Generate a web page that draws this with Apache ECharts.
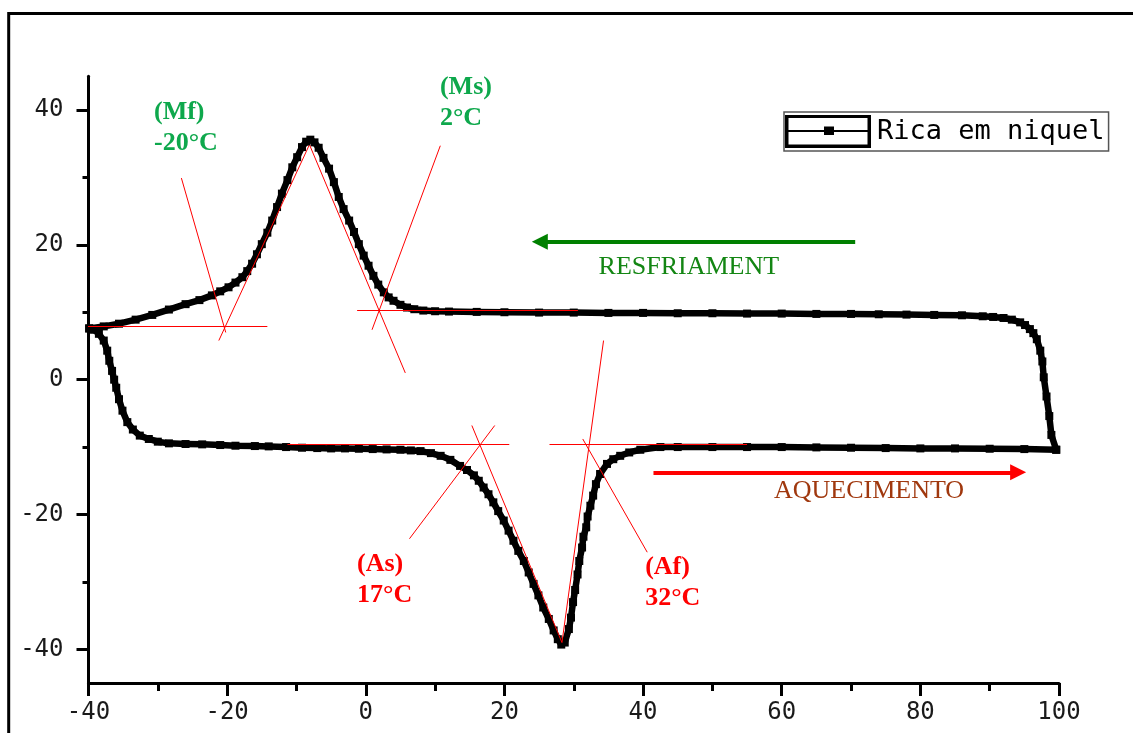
<!DOCTYPE html>
<html>
<head>
<meta charset="utf-8">
<script src="https://cdn.jsdelivr.net/npm/echarts@6/dist/echarts.min.js"></script>
<style>
html,body{margin:0;padding:0;background:#fff;}
#chart{width:1133px;height:733px;}
</style>
</head>
<body>
<div id="chart"></div>
<script>
// ---- data ----
const xMajorTicks = [-40, -20, 0, 20, 40, 60, 80, 100];
const xMinorTicks = [-30, -10, 10, 30, 50, 70, 90];
const yMajorTicks = [-40, -20, 0, 20, 40];
const yMinorTicks = [-30, -10, 10, 30];

const seriesName = 'Rica em niquel';

// heating run (temperature °C, heat flow)
const heatingCurve = [
  [-39.9, 7.6], [-39.2, 7.4], [-38.5, 6.8], [-37.8, 5.8], [-37.3, 4.3], [-37.0, 2.8],
  [-36.6, 1.3], [-36.3, 0.0], [-36.0, -1.2], [-35.6, -2.9], [-35.1, -4.6], [-34.4, -6.3],
  [-33.6, -7.4], [-32.6, -8.3], [-31.3, -8.8], [-30.0, -9.2], [-28.4, -9.45], [-26.0, -9.55],
  [-23.6, -9.6], [-21.0, -9.7], [-18.8, -9.8], [-16.0, -9.85], [-14.0, -9.9], [-11.5, -10.0],
  [-9.2, -10.1], [-7.0, -10.15], [-5.0, -10.2], [-3.0, -10.2], [-1.0, -10.25], [1.0, -10.3],
  [3.0, -10.35], [5.0, -10.4], [6.5, -10.5], [7.9, -10.6], [9.4, -10.9], [10.8, -11.3],
  [12.2, -11.9], [13.6, -12.8], [14.6, -13.4], [15.6, -14.2], [16.3, -15.0], [17.0, -16.0],
  [17.7, -17.0], [18.4, -18.2], [19.1, -19.5], [19.9, -20.9], [20.6, -22.4], [21.3, -23.9],
  [22.0, -25.4], [22.8, -26.9], [23.5, -28.6], [24.2, -30.3], [24.9, -32.0], [25.6, -33.8],
  [26.4, -35.5], [27.1, -37.2], [27.7, -38.5], [28.2, -39.3], [28.7, -39.0], [29.3, -37.0],
  [29.6, -35.3], [29.9, -33.0], [30.2, -31.2], [30.55, -28.9], [30.8, -26.9], [31.2, -24.9],
  [31.4, -23.3], [31.8, -21.9], [32.0, -20.3], [32.4, -18.7], [32.8, -17.2], [33.2, -15.5],
  [33.8, -14.0], [34.8, -12.5], [35.7, -11.8], [36.7, -11.3], [38.0, -10.8], [39.6, -10.4],
  [42.5, -10.0], [45, -10.0], [50, -10.0], [55, -10.0], [60, -10.0], [65, -10.05],
  [70, -10.1], [75, -10.15], [80, -10.2], [85, -10.2], [90, -10.25], [95, -10.3], [99.6, -10.4]
];

// cooling run (temperature °C, heat flow)
const coolingCurve = [
  [99.6, -10.4], [98.9, -8.2], [98.6, -5.4], [98.2, -2.5], [97.8, 0.35], [97.6, 2.7],
  [97.3, 4.3], [96.8, 6.0], [96.3, 6.9], [95.8, 7.5], [95.1, 8.1], [94.4, 8.5],
  [93.2, 8.9], [92.0, 9.15], [90.5, 9.3], [89.0, 9.4], [86, 9.55], [82, 9.6],
  [78, 9.65], [74, 9.7], [70, 9.75], [65, 9.75], [60, 9.8], [55, 9.8], [50, 9.85],
  [45, 9.85], [40, 9.9], [35, 9.9], [30, 9.95], [25, 9.95], [20, 10.0], [16, 10.05],
  [12, 10.1], [10, 10.15], [8.3, 10.25], [7.0, 10.45], [5.95, 10.7], [5.0, 11.1],
  [4.0, 11.7], [3.3, 12.2], [2.6, 12.95], [1.8, 14.1], [1.1, 15.4], [0.4, 16.9],
  [-0.3, 18.4], [-1.0, 20.1], [-1.7, 21.9], [-2.4, 23.6], [-3.2, 25.3], [-3.9, 27.1],
  [-4.6, 29.3], [-5.3, 31.3], [-6.1, 32.9], [-6.8, 34.4], [-7.4, 35.2], [-8.0, 35.6],
  [-8.6, 35.3], [-9.2, 34.5], [-9.9, 33.0], [-10.6, 31.5], [-11.3, 29.6], [-12.1, 27.6],
  [-12.8, 25.6], [-13.5, 23.6], [-14.2, 21.8], [-15.0, 20.1], [-15.7, 18.6], [-16.4, 17.2],
  [-17.1, 16.1], [-17.8, 15.2], [-18.8, 14.4], [-19.8, 13.7], [-21.0, 13.1], [-22.2, 12.5],
  [-24.0, 11.8], [-26.0, 11.2], [-28.4, 10.4], [-30.8, 9.6], [-33.2, 8.9], [-35.6, 8.3],
  [-37.8, 7.9], [-39.9, 7.6]
];

// construction (tangent) lines, each [[x1,y1],[x2,y2]]
const tangentLines = [
  [[-40.5, 7.85], [-14.2, 7.85]],
  [[-26.6, 29.9], [-20.2, 7.0]],
  [[-8.2, 34.7], [-21.2, 5.8]],
  [[-8.1, 34.8], [5.7, 1.0]],
  [[10.75, 34.7], [0.9, 7.4]],
  [[-1.25, 10.3], [30.6, 10.3]],
  [[-11.3, -9.55], [20.7, -9.55]],
  [[15.3, -6.8], [28.3, -39.0]],
  [[18.6, -6.8], [6.3, -23.6]],
  [[26.5, -9.55], [55.0, -9.55]],
  [[28.3, -39.0], [34.3, 5.8]],
  [[31.3, -8.8], [40.6, -25.6]]
];

// direction arrows
const coolingArrow = [[70.6, 20.46], [25.1, 20.46]];
const heatingArrow = [[41.5, -13.75], [94.1, -13.75]];

// annotation texts and their anchor points
const pointLabels = ['(Mf)\n-20°C', '(Ms)\n2°C', '(As)\n17°C', '(Af)\n32°C'];
const pointLabelAnchors = [[-30.55, 37.3], [10.7, 41.0], [-1.27, -29.7], [40.3, -30.2]];
const pointLabelColors = ['#0ea84c', '#0ea84c', '#ff0000', '#ff0000'];
const directionLabels = ['RESFRIAMENT', 'AQUECIMENTO'];
const directionLabelAnchors = [[46.6, 16.75], [72.6, -16.6]];
const directionLabelColors = ['#138613', '#a0380e'];

// ---- chart ----
const chart = echarts.init(document.getElementById('chart'), null, {renderer: 'canvas'});

const tickFont = {fontFamily: 'DejaVu Sans Mono', fontSize: 24, color: '#1a1a1a'};
function makeAxis(dim, min, max, majors, minors) {
  const isX = dim === 'x';
  const base = {
    type: 'value', min: min, max: max, scale: false,
    position: isX ? 'bottom' : 'left',
    splitLine: {show: false}, minorTick: {show: false}, minorSplitLine: {show: false}
  };
  return [
    Object.assign({}, base, {
      axisLine: {show: true, onZero: false, lineStyle: {color: '#000', width: 3}},
      axisTick: {show: true, customValues: majors, length: isX ? 13 : 12, inside: false,
                 lineStyle: {color: '#000', width: 3}},
      axisLabel: Object.assign({show: true, customValues: majors, margin: isX ? 18 : 25}, tickFont)
    }),
    Object.assign({}, base, {
      axisLine: {show: false, onZero: false},
      axisTick: {show: true, customValues: minors, length: isX ? 8 : 6, inside: false,
                 lineStyle: {color: '#000', width: 3}},
      axisLabel: {show: false}
    })
  ];
}

const legendIcon = 'path://M0,0H86V33H0Z M3.5,3V29.5H82.5V3Z M3.5,15H82.5V17H3.5Z M39,11.5H49V20H39Z';

const option = {
  backgroundColor: '#ffffff',
  animation: false,
  grid: {left: 88.5, right: 74, top: 76.3, bottom: 50, containLabel: false},
  xAxis: makeAxis('x', -40, 100, xMajorTicks, xMinorTicks),
  yAxis: makeAxis('y', -45, 45, yMajorTicks, yMinorTicks),
  legend: {
    show: true,
    left: 784, top: 112,
    padding: [3, 4, 3, 1],
    borderColor: '#555', borderWidth: 1.5,
    itemWidth: 86, itemHeight: 33, itemGap: 0,
    itemStyle: {borderWidth: 0},
    textStyle: {fontFamily: 'DejaVu Sans Mono', fontSize: 27, color: '#000', padding: [0, 0, 0, 1]},
    data: [{name: seriesName, icon: legendIcon}],
    selectedMode: false
  },
  graphic: [{
    type: 'rect', silent: true, z: -1,
    shape: {x: 8.7, y: 13.5, width: 1300, height: 900},
    style: {fill: 'none', stroke: '#000', lineWidth: 3}
  }],
  series: [
    {
      name: seriesName, type: 'line',
      xAxisIndex: 0, yAxisIndex: 0,
      data: heatingCurve.concat(coolingCurve),
      symbol: 'rect', symbolSize: 8, showSymbol: true, showAllSymbol: true,
      lineStyle: {color: '#000', width: 6.5, join: 'round', cap: 'round'},
      itemStyle: {color: '#000', opacity: 1},
      z: 2, silent: true
    },
    {
      name: 'tangents', type: 'lines', coordinateSystem: 'cartesian2d',
      xAxisIndex: 0, yAxisIndex: 0,
      data: tangentLines.map(s => ({coords: s})),
      symbol: 'none',
      lineStyle: {color: '#ff0000', width: 1, opacity: 1},
      z: 4, silent: true
    },
    {
      name: 'arrows', type: 'lines', coordinateSystem: 'cartesian2d',
      xAxisIndex: 0, yAxisIndex: 0,
      data: [
        {coords: coolingArrow, lineStyle: {color: '#008000'}},
        {coords: heatingArrow, lineStyle: {color: '#ff0000'}}
      ],
      symbol: ['none', 'triangle'], symbolSize: 16,
      lineStyle: {width: 4, opacity: 1},
      z: 4, silent: true
    },
    {
      name: 'labels', type: 'scatter',
      xAxisIndex: 0, yAxisIndex: 0,
      symbolSize: 0, silent: true, z: 5,
      itemStyle: {opacity: 1},
      data: pointLabels.map((t, i) => ({
        value: pointLabelAnchors[i],
        label: {show: true, formatter: t, position: [0, 0], align: 'left', verticalAlign: 'middle',
                color: pointLabelColors[i], fontFamily: 'Liberation Serif', fontWeight: 'bold',
                fontSize: 26, lineHeight: 31, opacity: 1}
      })).concat(directionLabels.map((t, i) => ({
        value: directionLabelAnchors[i],
        label: {show: true, formatter: t, position: [0, 0], align: 'center', verticalAlign: 'middle',
                color: directionLabelColors[i], fontFamily: 'Liberation Serif', fontWeight: 'normal',
                fontSize: 26, opacity: 1}
      })))
    }
  ]
};
chart.setOption(option);
</script>
</body>
</html>
